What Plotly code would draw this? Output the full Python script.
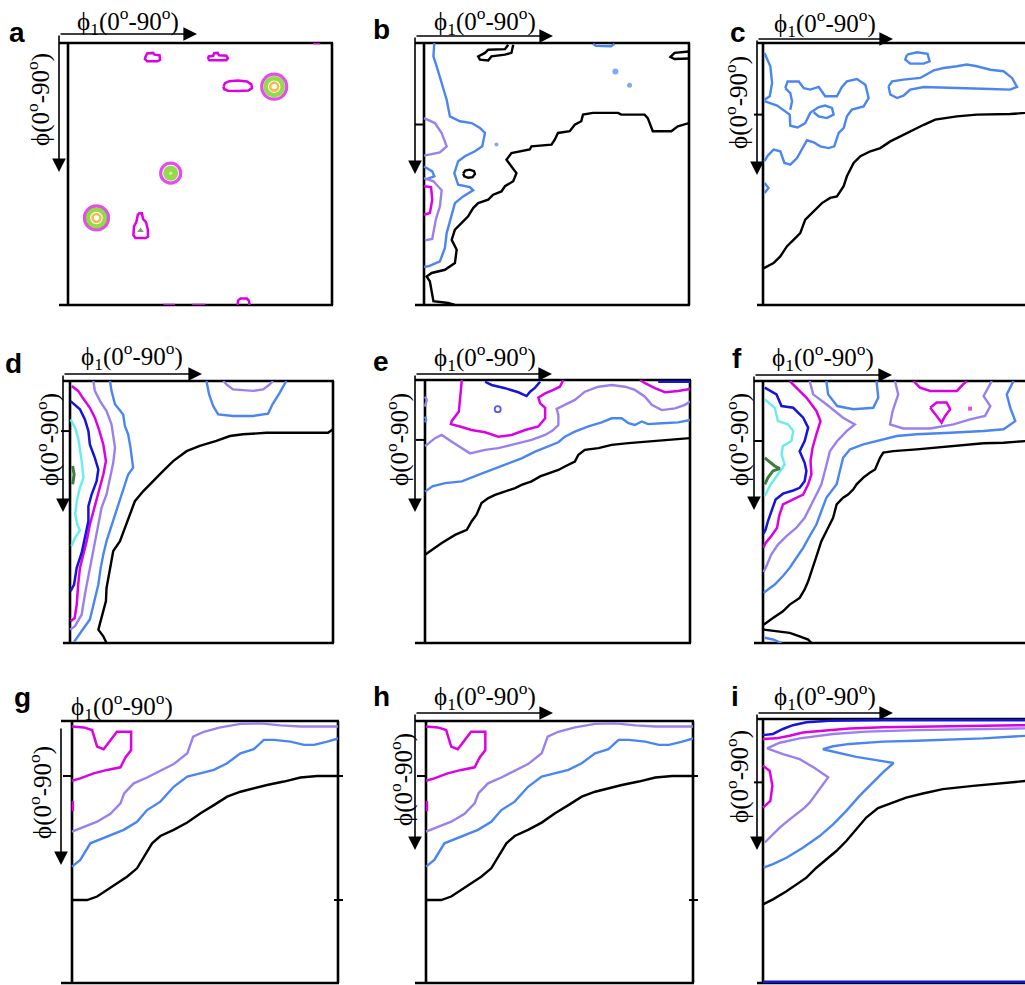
import plotly.graph_objects as go

W, H = 1025, 985

# ---------------- contour data: (phi1, PHI) in degrees ----------------
# panel a
a_mag_1 = [(26.5, 4.5), (27.0, 3.6), (29.0, 3.4), (29.5, 4.0), (31.2, 4.2), (31.4, 5.8), (30.5, 6.3), (27.0, 6.3), (26.2, 5.5), (26.5, 4.5)]
a_mag_2 = [(47.7, 5.5), (48.0, 4.6), (49.5, 4.4), (49.8, 3.5), (51.0, 3.4), (51.5, 4.2), (54.0, 4.4), (54.5, 5.2), (54.0, 5.9), (48.2, 5.9), (47.7, 5.5)]
a_mag_3 = [(53.0, 15.0), (53.5, 13.8), (55.0, 13.1), (58.0, 12.9), (61.0, 13.2), (62.5, 14.2), (62.7, 15.5), (61.5, 16.3), (58.0, 16.5), (54.5, 16.4), (53.2, 15.8), (53.0, 15.0)]
a_mag_4 = [(23.9, 58.6), (25.2, 58.5), (25.6, 60.5), (26.6, 61.5), (27.2, 64.0), (27.3, 66.5), (26.5, 67.0), (23.0, 67.0), (22.3, 66.0), (22.5, 63.0), (23.3, 61.5), (23.5, 60.0), (23.9, 58.6)]
a_mag_5 = [(57.8, 90.0), (58.0, 88.4), (58.8, 87.8), (61.0, 87.8), (61.7, 88.6), (61.9, 90.0)]
a_mag_6 = [(32.5, 90.0), (36.5, 90.0)]
a_mag_7 = [(42.2, 90.0), (46.8, 90.0)]
a_mag_8 = [(83.5, 0.0), (86.0, 0.0)]
a_peaks = [(70.3, 15.0), (35.0, 44.7), (9.7, 60.1)]
a_minor_peak = [(24.7, 64.4)]

# panel b
b_black_1 = [(90, 27.5), (86.2, 28.6), (84.0, 30.3), (77.7, 30.3), (76.0, 25.8), (74.9, 24.6), (67.0, 24.6), (65.9, 24.0), (57.4, 24.0), (54.0, 24.6), (53.4, 26.9), (51.2, 28.1), (49.5, 30.3), (45.5, 30.9), (44.4, 33.2), (43.3, 34.9), (36.5, 35.5), (35.9, 36.6), (29.7, 37.8), (28.0, 40.1), (29.7, 42.4), (31.4, 44.7), (30.3, 47.5), (27.5, 49.2), (26.3, 51.0), (23.5, 52.1), (21.8, 53.8), (18.4, 55.0), (16.7, 56.7), (15.0, 59.5), (12.8, 61.8), (10.5, 64.1), (9.4, 67.6), (11.1, 71.0), (10.5, 75.6), (7.1, 77.9), (2.6, 79.0), (0.9, 80.2), (2.0, 81.9), (2.6, 85.9), (3.2, 88.7), (8.2, 89.3), (10.5, 90)]
b_black_2 = [(30.3, 0.6), (29.7, 3.4), (27.5, 4.0), (22.9, 4.6), (21.8, 6.0), (19.0, 5.7), (18.4, 4.6), (20.7, 3.4), (21.8, 2.3), (27.5, 2.1), (28.6, 0.6)]
b_black_3 = [(90, 2.9), (85.1, 3.4), (83.7, 4.8), (85.1, 5.5), (90, 5.3)]
b_black_4 = [(13.3, 44.9), (14.0, 43.8), (15.5, 43.5), (17.0, 44.0), (17.3, 45.0), (16.5, 46.1), (15.0, 46.3), (13.7, 45.8), (13.3, 44.9)]
b_blue_1 = [(3.5, 0), (3.2, 4.6), (4.3, 8.0), (6.0, 13.7), (7.7, 19.5), (8.8, 25.2), (12.2, 26.9), (16.2, 27.5), (19.0, 29.2), (20.7, 30.9), (19.8, 35.5), (17.3, 37.2), (13.9, 38.9), (11.6, 40.6), (10.3, 44.7), (11.6, 48.7), (15.6, 49.5), (16.7, 50.6), (13.3, 52.7), (10.5, 55.0), (9.2, 59.5), (7.7, 65.3), (7.1, 70.4), (5.4, 75.0), (1.5, 76.7), (0, 76.9)]
b_blue_2 = [(0, 42.4), (2.8, 44.1), (3.5, 45.8), (0.3, 46.9)]
b_blue_3 = [(57.4, 0.3), (58.5, 1.0), (63.5, 1.1), (64.7, 0.3)]
b_blue_dots = [(65.0, 9.8), (69.8, 14.5), (24.6, 34.9)]
b_purple_1 = [(0, 25.8), (3.7, 27.5), (6.0, 30.9), (7.7, 35.5), (5.4, 37.6), (1.5, 38.4), (0, 38.7)]
b_purple_2 = [(0, 46.4), (3.2, 47.5), (6.0, 50.6), (5.4, 56.1), (4.0, 60.7), (3.2, 65.3), (2.8, 67.3), (0.3, 67.8)]
b_mag_1 = [(0, 49.2), (2.4, 49.5), (2.8, 53.8), (2.0, 58.4), (0, 59.0)]

# panel c
c_black_1 = [(0, 77.5), (3.6, 75.6), (5.9, 73.3), (8.2, 69.8), (10.4, 67.6), (12.7, 65.3), (14.4, 60.7), (16.7, 58.4), (20.1, 55.0), (22.9, 53.2), (25.2, 52.7), (27.5, 49.2), (28.6, 45.8), (30.9, 41.2), (33.2, 38.9), (36.6, 37.2), (40.0, 36.1), (43.4, 33.8), (47.9, 31.5), (51.3, 29.8), (54.8, 28.1), (58.7, 26.3), (62.1, 25.8), (66.1, 25.2), (72.9, 24.6), (77.5, 24.6), (84.3, 24.4), (89.4, 24.0), (90, 23.8)]
c_blue_1 = [(0.5, 3.4), (2.5, 8.0), (3.1, 13.7), (2.3, 18.3), (0.5, 19.5)]
c_blue_2 = [(7.6, 15.5), (8.4, 13.2), (12.2, 13.2), (13.9, 15.5), (16.1, 16.0), (19.0, 15.1), (21.2, 18.3), (25.2, 18.3), (26.9, 15.1), (28.6, 13.2), (32.0, 12.4), (34.9, 14.3), (36.0, 18.9), (34.3, 21.8), (30.3, 22.9), (28.6, 25.2), (27.5, 29.2), (25.8, 30.9), (24.3, 35.5), (22.4, 36.1), (19.5, 35.5), (17.3, 34.1), (15.0, 33.4), (13.9, 35.5), (11.6, 39.5), (9.3, 41.8), (7.3, 41.2), (5.9, 37.2), (3.6, 36.6), (1.6, 38.7), (0.5, 40.6)]
c_blue_3 = [(0.5, 20.0), (4.8, 21.5), (9.1, 24.6), (9.3, 28.4), (11.8, 29.0), (14.4, 27.5), (16.1, 24.0), (19.0, 22.0), (21.2, 21.5), (23.5, 22.3), (24.1, 24.6), (21.8, 25.8), (19.0, 25.2), (17.3, 23.8)]
c_blue_4 = [(7.6, 15.5), (9.3, 17.2), (9.9, 20.0), (9.3, 22.9)]
c_blue_5 = [(42.8, 14.9), (44.0, 13.2), (47.9, 12.6), (53.6, 12.0), (58.2, 9.4), (61.6, 8.6), (66.1, 8.0), (69.5, 7.4), (72.9, 8.0), (77.5, 9.2), (82.0, 9.7), (84.9, 12.0), (86.6, 15.1), (84.3, 16.0), (77.5, 15.8), (66.1, 15.5), (54.8, 15.1), (50.2, 16.0), (47.9, 18.1), (45.7, 18.9), (43.4, 17.7), (42.8, 14.9)]
c_blue_6 = [(49.1, 4.0), (52.5, 3.2), (56.1, 3.7), (56.8, 6.3), (54.8, 7.1), (50.2, 7.1), (48.5, 5.7), (49.1, 4.0)]
c_blue_7 = [(0.5, 48.1), (1.9, 49.8), (0.5, 51.5)]

# panel d
d_black_1 = [(90.0, 16.6), (88.3, 17.8), (78.6, 17.8), (67.2, 17.8), (59.2, 18.3), (54.7, 18.9), (50.1, 20.6), (44.4, 22.3), (39.9, 24.1), (35.3, 27.5), (31.9, 30.9), (28.5, 34.4), (25.1, 37.8), (22.2, 41.3), (20.5, 45.8), (18.8, 50.4), (17.1, 55.0), (14.8, 58.4), (13.7, 64.2), (12.5, 71.1), (12.3, 75.6), (11.4, 79.1), (10.3, 82.5), (9.7, 85.4), (11.4, 87.7), (12.5, 90.0)]
d_blue_1 = [(13.7, 0), (14.2, 3.4), (15.4, 8.0), (18.2, 11.5), (18.8, 15.5), (19.9, 18.3), (20.7, 22.9), (21.6, 29.8), (19.9, 32.1), (18.8, 35.5), (17.3, 40.1), (15.9, 44.7), (13.9, 50.4), (12.5, 55.0), (11.4, 59.6), (10.5, 64.2), (9.7, 69.9), (8.2, 75.6), (6.8, 81.9), (4.0, 85.9), (1.4, 89.6)]
d_blue_2 = [(46.7, 0), (47.6, 4.6), (49.0, 8.6), (50.7, 11.5), (55.8, 12.0), (62.6, 12.0), (67.8, 11.2), (69.3, 8.0), (71.8, 4.0), (74.0, 0)]
d_purple_1 = [(8.0, 0), (8.5, 3.4), (10.3, 6.9), (12.5, 10.3), (14.2, 14.9), (15.4, 22.9), (14.8, 28.1), (13.7, 33.2), (12.5, 39.0), (10.8, 43.5), (9.7, 49.3), (8.5, 55.0), (7.4, 60.2), (6.3, 66.5), (5.1, 73.3), (4.0, 80.2), (1.7, 84.2), (0, 85.4)]
d_purple_2 = [(52.4, 0), (53.8, 1.4), (55.8, 2.9), (62.6, 3.4), (66.1, 2.9), (68.1, 1.4), (69.5, 0)]
d_mag_1 = [(0.6, 1.7), (2.8, 3.4), (4.3, 5.7), (6.8, 9.2), (8.5, 12.6), (9.9, 16.6), (11.4, 21.8), (12.3, 27.5), (11.4, 32.1), (9.9, 37.8), (8.5, 43.5), (6.8, 49.3), (5.7, 55.0), (4.6, 59.6), (3.4, 64.2), (2.8, 69.9), (2.3, 76.8), (1.6, 81.4), (0.2, 82.5)]
d_dblue_1 = [(0.2, 6.9), (3.4, 9.7), (5.1, 13.2), (6.3, 17.2), (6.8, 21.8), (8.5, 26.4), (9.7, 30.4), (9.1, 34.4), (7.4, 39.0), (6.3, 43.0), (6.3, 48.1), (5.1, 53.9), (4.0, 59.0), (2.3, 64.2), (1.4, 69.9), (0.2, 72.2)]
d_cyan_1 = [(0.2, 13.2), (1.7, 16.0), (2.8, 19.5), (3.4, 23.5), (4.0, 27.5), (4.6, 33.2), (3.4, 36.7), (2.3, 41.3), (1.8, 45.8), (2.5, 49.3), (3.4, 51.3), (1.7, 53.9), (0.5, 56.7)]
d_green_1 = [(0.9, 29.2), (1.4, 32.1), (0.9, 35.5)]

# panel e
e_black_1 = [(0, 59.8), (2.3, 58.1), (5.7, 55.8), (10.2, 53.0), (14.2, 51.3), (15.8, 48.4), (17.5, 46.1), (19.2, 42.1), (21.5, 40.4), (23.8, 39.3), (27.2, 38.2), (30.6, 37.0), (32.8, 35.9), (36.2, 34.7), (39.1, 33.0), (41.9, 31.9), (45.3, 30.8), (47.5, 29.6), (50.9, 27.9), (52.1, 25.6), (54.3, 23.9), (58.9, 23.3), (63.4, 22.2), (69.1, 21.6), (74.7, 21.1), (80.4, 20.5), (86.0, 20.2), (90, 19.9)]
e_blue_1 = [(0, 38.2), (2.5, 36.4), (6.8, 35.3), (12.5, 34.7), (18.1, 32.5), (22.6, 30.8), (27.2, 29.0), (32.8, 26.8), (37.4, 24.5), (41.9, 22.8), (45.3, 21.3), (47.5, 19.4), (50.9, 17.7), (55.5, 15.9), (60.0, 14.5), (63.4, 13.1), (66.8, 13.1), (69.1, 14.8), (71.3, 15.4), (73.6, 14.2), (75.8, 15.1), (80.4, 14.8), (86.0, 14.5), (90, 13.7)]
e_blue_2 = [(0, 12.5), (0.4, 13.7), (0, 14.5)]
e_purple_1 = [(0, 22.6), (0.6, 22.2), (3.4, 19.9), (5.7, 18.8), (9.1, 21.1), (12.5, 23.3), (15.3, 25.1), (20.4, 23.9), (24.9, 23.3), (29.4, 22.2), (36.2, 20.5), (40.8, 18.8), (43.2, 17.4), (45.3, 15.4), (45.3, 12.0), (44.7, 9.9), (47.5, 8.5), (50.9, 6.8), (54.3, 4.0), (58.9, 2.3), (63.4, 1.7), (67.9, 2.3), (71.3, 3.4), (74.7, 5.7), (77.0, 8.5), (80.4, 10.3), (84.9, 9.7), (88.3, 8.5), (90, 7.4)]
e_purple_2 = [(0, 5.7), (0.6, 6.8), (0, 9.1)]
e_mag_1 = [(12.5, 0), (12.1, 5.1), (11.5, 10.8), (9.1, 14.0), (8.8, 15.1), (11.9, 15.9), (15.8, 17.1), (20.4, 17.9), (24.9, 19.4), (29.4, 18.8), (34.0, 17.1), (38.5, 15.9), (40.8, 13.1), (40.8, 9.5), (39.1, 8.0), (38.5, 6.0), (40.8, 4.6), (43.6, 3.4), (45.8, 2.3), (47.0, 0)]
e_mag_2 = [(73.0, 0), (74.7, 1.1), (78.1, 2.8), (81.5, 4.2), (86.0, 3.8), (90, 3.1)]
e_dblue_1 = [(20.4, 0.6), (22.6, 1.7), (27.2, 2.8), (31.7, 4.2), (34.5, 5.5), (35.7, 4.0), (37.4, 2.6), (39.1, 0.6)]
e_dblue_2 = [(79.2, 0.6), (90, 0.6)]
e_dblue_dot = [(24.7, 10.0)]

# panel f
f_black_1 = [(90, 20.6), (82.0, 21.2), (75.2, 21.4), (66.1, 22.3), (59.2, 22.9), (52.4, 23.5), (44.4, 24.1), (41.0, 24.6), (39.9, 26.4), (39.0, 28.7), (38.2, 30.4), (36.4, 31.5), (34.2, 33.2), (31.9, 35.5), (30.8, 37.2), (29.0, 39.0), (27.3, 40.1), (25.1, 42.4), (23.9, 47.0), (22.2, 50.4), (21.1, 52.7), (19.9, 55.0), (18.8, 58.4), (17.7, 61.9), (16.5, 65.3), (15.4, 68.8), (14.2, 71.6), (12.5, 74.5), (9.1, 76.8), (6.8, 79.1), (3.4, 81.4), (0.2, 83.7)]
f_black_2 = [(0.2, 85.4), (4.6, 86.0), (9.1, 86.5), (12.5, 87.7), (15.4, 88.8), (16.5, 90)]
f_blue_1 = [(85.4, 0), (83.1, 4.6), (84.3, 9.2), (86.0, 13.8), (82.0, 16.6), (75.2, 17.2), (63.8, 17.8), (52.4, 18.3), (45.6, 18.9), (41.0, 20.1), (34.2, 21.8), (29.6, 23.5), (27.3, 26.4), (26.2, 30.9), (25.1, 35.5), (21.6, 40.1), (19.9, 44.7), (18.2, 49.3), (15.9, 53.3), (13.7, 57.3), (11.4, 60.7), (9.1, 64.2), (6.8, 67.0), (4.0, 69.9), (1.7, 71.6), (0.2, 72.8)]
f_blue_2 = [(21.6, 0), (22.2, 4.6), (25.3, 8.6), (30.8, 9.7), (37.6, 9.2), (39.3, 5.7), (38.7, 0)]
f_blue_3 = [(0.6, 88.2), (3.4, 88.8), (6.3, 90)]
f_purple_1 = [(15.9, 0), (17.1, 4.6), (21.6, 8.0), (27.3, 12.6), (31.3, 14.9), (28.5, 17.2), (25.3, 20.6), (22.8, 24.1), (21.4, 29.8), (19.9, 35.5), (18.8, 37.8), (16.5, 42.4), (14.2, 47.0), (11.4, 50.4), (8.0, 53.3), (5.1, 56.2), (2.8, 59.6), (1.4, 63.0), (0.2, 65.6)]
f_purple_2 = [(45.0, 0), (46.1, 4.6), (44.2, 10.3), (43.3, 14.9), (47.8, 16.3), (57.0, 16.3), (64.9, 14.9), (70.6, 13.2), (75.7, 12.0), (77.5, 8.6), (75.2, 5.2), (78.0, 0)]
f_mag_1 = [(9.1, 0), (10.8, 1.7), (14.8, 5.7), (18.2, 10.3), (19.6, 13.8), (18.2, 18.3), (16.9, 22.9), (16.2, 27.5), (16.5, 32.1), (15.4, 35.5), (13.7, 39.0), (10.3, 40.7), (6.8, 42.4), (5.5, 46.4), (4.8, 50.4), (2.8, 53.3), (0.9, 55.6), (0.2, 57.3)]
f_mag_2 = [(51.3, 0), (53.5, 2.3), (57.0, 3.4), (66.1, 3.4), (68.3, 1.1), (69.5, 0)]
f_mag_3 = [(57.0, 9.2), (59.2, 7.4), (62.6, 7.4), (63.8, 9.7), (62.1, 12.0), (60.9, 14.3), (59.2, 12.0), (57.0, 9.2)]
f_mag_dot = [(70.6, 9.5)]
f_dblue_1 = [(0.6, 2.3), (4.6, 4.6), (6.3, 8.6), (10.3, 9.2), (13.7, 12.6), (15.4, 16.0), (14.2, 20.6), (12.5, 24.1), (14.2, 28.1), (14.8, 30.9), (14.2, 34.4), (12.5, 36.7), (10.3, 37.6), (6.8, 38.7), (4.3, 40.7), (2.8, 44.7), (1.7, 48.1), (0.9, 51.0), (0.2, 52.5)]
f_cyan_1 = [(0.6, 6.3), (4.0, 9.2), (5.1, 13.8), (8.5, 14.9), (10.3, 17.2), (9.7, 20.6), (6.8, 22.3), (6.3, 25.2), (7.4, 28.7), (5.1, 32.1), (2.3, 36.1), (0.6, 39.5)]
f_green_1 = [(0.6, 26.4), (4.0, 29.2), (5.7, 30.1), (3.4, 30.9), (1.7, 33.2), (0.6, 35.5)]

# panels g and h (same distribution)
g_black_1 = [(0, 61.5), (5.1, 61.5), (8.5, 60.3), (11.9, 58.1), (15.2, 55.8), (18.6, 53.5), (22.0, 50.6), (24.3, 46.6), (27.1, 42.0), (29.9, 39.5), (34.4, 37.4), (39.0, 34.9), (43.5, 31.7), (48.0, 28.9), (52.5, 26.0), (57.0, 24.3), (61.5, 23.1), (66.0, 22.0), (71.7, 20.8), (77.3, 19.4), (83.0, 18.9), (90, 18.9)]
g_blue_1 = [(0, 50.0), (2.8, 47.7), (6.2, 42.0), (11.9, 39.7), (17.5, 37.4), (22.0, 34.6), (25.4, 30.6), (29.9, 27.7), (34.4, 22.6), (39.0, 19.1), (43.5, 18.0), (48.0, 16.8), (52.5, 14.5), (57.0, 11.1), (61.5, 9.7), (64.9, 6.5), (68.3, 6.5), (73.9, 7.1), (78.5, 8.2), (81.9, 8.2), (86.4, 7.1), (90, 6.0)]
g_purple_1 = [(0, 38.0), (4.0, 36.3), (8.5, 34.6), (13.0, 31.9), (16.4, 28.3), (17.7, 24.8), (20.9, 21.4), (25.4, 19.4), (29.9, 17.1), (34.4, 14.8), (39.0, 11.1), (41.0, 5.4), (44.6, 3.7), (50.2, 2.2), (57.0, 1.0), (63.8, 0.8), (70.6, 1.5), (77.3, 1.9), (90, 1.9)]
g_mag_1 = [(0, 1.9), (4.0, 2.2), (6.8, 3.1), (8.5, 8.8), (10.7, 9.7), (13.0, 6.5), (15.2, 3.7), (20.0, 3.7), (20.0, 10.0), (18.1, 12.5), (16.4, 15.9), (11.9, 16.8), (7.3, 18.0), (2.8, 19.7), (0, 20.5)]
g_mag_2 = [(0.3, 27.5), (0.3, 31.0)]

# panel i
i_dblue_1 = [(0, 5.5), (3.4, 5.1), (6.8, 3.4), (10.2, 2.1), (14.8, 1.1), (22.7, 0.6), (40.9, 0.4), (90, 0.4)]
i_dblue_2 = [(0, 89.6), (90, 89.6)]
i_mag_1 = [(0, 6.8), (4.5, 6.6), (9.1, 5.7), (13.6, 4.6), (20.4, 4.0), (29.5, 3.2), (40.9, 2.8), (52.3, 2.6), (70.4, 2.3), (90, 2.1)]
i_mag_2 = [(0, 15.9), (2.3, 17.7), (3.2, 22.8), (2.5, 27.9), (0, 30.2)]
i_purple_1 = [(90, 3.2), (70.4, 3.5), (52.3, 3.8), (35.2, 4.3), (23.9, 5.1), (12.5, 6.6), (5.7, 8.1), (1.4, 10.0), (6.8, 12.0), (12.5, 13.7), (17.6, 16.7), (22.2, 19.9), (19.3, 23.9), (15.9, 28.5), (14.2, 30.2), (11.9, 31.9), (9.1, 34.2), (5.7, 37.0), (2.8, 39.9), (0.6, 42.1)]
i_blue_1 = [(90, 5.7), (75.0, 6.6), (52.3, 7.4), (40.9, 7.7), (29.5, 8.5), (23.9, 9.3), (20.4, 10.3), (25.0, 11.4), (31.8, 12.9), (38.6, 14.0), (44.5, 15.0), (40.9, 18.2), (36.9, 22.2), (32.9, 26.2), (28.4, 31.3), (23.9, 35.9), (19.3, 39.9), (13.6, 43.9), (8.0, 47.3), (3.4, 49.5), (0.2, 50.7)]
i_black_1 = [(0, 63.2), (3.4, 61.5), (8.0, 58.7), (11.4, 56.4), (14.8, 54.1), (18.2, 50.7), (21.6, 47.8), (25.0, 45.0), (28.4, 41.6), (31.8, 37.6), (35.2, 33.6), (39.2, 30.4), (43.2, 28.8), (48.8, 26.8), (54.5, 25.4), (61.3, 23.9), (71.6, 22.8), (82.9, 21.6), (90, 21.1)]

# tick marks on the PHI axis (degrees)
tick_left = {'b': [28.0], 'c': [24.6], 'd': [17.2], 'e': [20.5], 'f': [20.6], 'g': [18.9], 'h': [18.9], 'i': [21.6]}
tick_right = {'g': [18.9, 61.5], 'h': [18.9, 61.5]}

panel_letters = ['a', 'b', 'c', 'd', 'e', 'f', 'g', 'h', 'i']
label_phi1 = 'ϕ<sub>1</sub>(0<sup>o</sup>-90<sup>o</sup>)'
label_phi = 'ϕ(0<sup>o</sup>-90<sup>o</sup>)'

# ---------------- styles ----------------
COLORS = {'black': '#000000', 'blue': '#4a86f2', 'purple': '#9a80ee', 'magenta': '#dc00e6',
          'dblue': '#1414dc', 'cyan': '#66eeee', 'green': '#3d7d3d', 'lime': '#66cc00', 'orange': '#eea010',
          'white': '#ffffff'}
WIDTHS = {'black': 2.4, 'blue': 2.4, 'purple': 2.4, 'magenta': 2.5, 'dblue': 2.5, 'cyan': 2.4, 'green': 3.0}

LINES = {
    'a': [('magenta', a_mag_1), ('magenta', a_mag_2), ('magenta', a_mag_3), ('magenta', a_mag_4),
          ('magenta', a_mag_5), ('magenta', a_mag_6), ('magenta', a_mag_7), ('magenta', a_mag_8)],
    'b': [('black', b_black_1), ('black', b_black_2), ('black', b_black_3), ('black', b_black_4),
          ('blue', b_blue_1), ('blue', b_blue_2), ('blue', b_blue_3), ('purple', b_purple_1),
          ('purple', b_purple_2), ('magenta', b_mag_1)],
    'c': [('black', c_black_1), ('blue', c_blue_1), ('blue', c_blue_2), ('blue', c_blue_3), ('blue', c_blue_4),
          ('blue', c_blue_5), ('blue', c_blue_6), ('blue', c_blue_7)],
    'd': [('black', d_black_1), ('blue', d_blue_1), ('blue', d_blue_2), ('purple', d_purple_1),
          ('purple', d_purple_2), ('magenta', d_mag_1), ('dblue', d_dblue_1), ('cyan', d_cyan_1),
          ('green', d_green_1)],
    'e': [('black', e_black_1), ('blue', e_blue_1), ('blue', e_blue_2), ('purple', e_purple_1),
          ('purple', e_purple_2), ('magenta', e_mag_1), ('magenta', e_mag_2), ('dblue', e_dblue_1),
          ('dblue', e_dblue_2)],
    'f': [('black', f_black_1), ('black', f_black_2), ('blue', f_blue_1), ('blue', f_blue_2), ('blue', f_blue_3),
          ('purple', f_purple_1), ('purple', f_purple_2), ('magenta', f_mag_1), ('magenta', f_mag_2),
          ('magenta', f_mag_3), ('dblue', f_dblue_1), ('cyan', f_cyan_1), ('green', f_green_1)],
    'g': [('black', g_black_1), ('blue', g_blue_1), ('purple', g_purple_1), ('magenta', g_mag_1), ('magenta', g_mag_2)],
    'h': [('black', g_black_1), ('blue', g_blue_1), ('purple', g_purple_1), ('magenta', g_mag_1), ('magenta', g_mag_2)],
    'i': [('black', i_black_1), ('blue', i_blue_1), ('purple', i_purple_1), ('magenta', i_mag_1),
          ('magenta', i_mag_2), ('dblue', i_dblue_1), ('dblue', i_dblue_2)],
}

# dot-like features: (panel, level, points, symbol, size, line width)
DOTS = [
    ('a', 'magenta', a_peaks, 'circle-open', [25, 20, 24], 3.2),
    ('a', 'lime', [a_peaks[0], a_peaks[2]], 'circle-open', [17, 17], 4.5),
    ('a', 'lime', [a_peaks[1]], 'circle', [15], 0),
    ('a', 'white', [a_peaks[1]], 'circle', [3], 0),
    ('a', 'orange', [a_peaks[0], a_peaks[2]], 'circle-open', [8, 8], 2.6),
    ('a', 'green', a_minor_peak, 'triangle-up', [6], 0),
    ('b', 'blue', b_blue_dots, 'circle', [6, 5, 4], 0),
    ('e', 'dblue', e_dblue_dot, 'circle-open', [6], 1.8),
    ('f', 'magenta', f_mag_dot, 'square', [4], 0),
]

# ---------------- layout geometry (pixels): left border, right border, top, bottom, frame start ----------------
GEOM = {
    'a': (68, 332, 43, 305, 59), 'b': (424, 689, 43, 305, 415), 'c': (763, 1027, 43, 305, 757),
    'd': (70, 333, 381, 643, 63), 'e': (425, 690, 380, 643, 415), 'f': (763, 1027, 381, 643, 754),
    'g': (72, 338, 721, 983, 61), 'h': (426, 693, 721, 983, 415), 'i': (763, 1027, 719, 983, 757),
}
ARROWS = {  # (tail_x, tail_y, tip_x, tip_y)
    'a': [(59, 34, 197, 34), (59, 34, 59, 172)],
    'b': [(415, 36, 553, 36), (415, 36, 415, 174)],
    'c': [(757, 39, 893, 39), (757, 39, 757, 175)],
    'd': [(63, 374, 202, 374), (63, 374, 63, 512)],
    'e': [(415, 374, 552, 374), (415, 374, 415, 512)],
    'f': [(754, 375, 892, 375), (754, 375, 754, 510)],
    'g': [(61, 727, 61, 865)],
    'h': [(415, 713, 553, 713), (415, 713, 415, 850)],
    'i': [(757, 713, 893, 713), (757, 713, 757, 850)],
}
LETTER_POS = {'a': (17, 32), 'b': (381, 30), 'c': (738, 32), 'd': (13, 363), 'e': (381, 361),
              'f': (737, 358), 'g': (22, 697), 'h': (381, 696), 'i': (735, 696)}
PHI1_POS = {'a': (128, 21), 'b': (485, 21), 'c': (825, 23), 'd': (132, 356), 'e': (485, 357),
            'f': (823, 357), 'g': (122, 706), 'h': (485, 696), 'i': (825, 696)}
PHI_POS = {'a': (39, 100), 'c': (737, 103), 'd': (47, 440), 'e': (397, 440), 'f': (737, 440),
           'g': (40, 793), 'h': (401, 780), 'i': (737, 777)}


def px(xp):
    return xp / W


def py(yp):
    return 1 - yp / H


fig = go.Figure()
shapes, annotations = [], []
FRAME_W = 2.6

for idx, p in enumerate(panel_letters, start=1):
    left, right, top, bottom, dl = GEOM[p]
    pxdeg = (right - left) / 90.0
    dr = min(right, W)
    sfx = '' if idx == 1 else str(idx)
    fig.update_layout(**{
        'xaxis' + sfx: dict(domain=[px(dl), px(dr)], range=[-(left - dl) / pxdeg, (dr - left) / pxdeg],
                            visible=False, anchor='y' + sfx, fixedrange=True),
        'yaxis' + sfx: dict(domain=[py(bottom), py(top)], range=[90, 0], visible=False,
                            anchor='x' + sfx, fixedrange=True),
    })
    for level, pts in LINES[p]:
        fig.add_trace(go.Scatter(x=[q[0] for q in pts], y=[q[1] for q in pts], mode='lines',
                                 line=dict(color=COLORS[level], width=WIDTHS[level]),
                                 xaxis='x' + sfx, yaxis='y' + sfx, hoverinfo='skip', showlegend=False))
    for (pp, level, pts, sym, sizes, lw) in DOTS:
        if pp != p:
            continue
        fig.add_trace(go.Scatter(x=[q[0] for q in pts], y=[q[1] for q in pts], mode='markers',
                                 marker=dict(symbol=sym, size=sizes, color=COLORS[level], line=dict(width=lw, color=COLORS[level])),
                                 xaxis='x' + sfx, yaxis='y' + sfx, hoverinfo='skip', showlegend=False, cliponaxis=False))
    # frame
    line = dict(color='black', width=FRAME_W)
    shapes.append(dict(type='line', xref='paper', yref='paper', x0=px(dl), x1=px(min(right + 1, W)), y0=py(top), y1=py(top), line=line, layer='below'))
    shapes.append(dict(type='line', xref='paper', yref='paper', x0=px(dl), x1=px(min(right + 1, W)), y0=py(bottom), y1=py(bottom), line=line, layer='below'))
    shapes.append(dict(type='line', xref='paper', yref='paper', x0=px(left), x1=px(left), y0=py(top), y1=py(bottom), line=line, layer='below'))
    if right <= W:
        shapes.append(dict(type='line', xref='paper', yref='paper', x0=px(right), x1=px(right), y0=py(top), y1=py(bottom), line=line, layer='below'))
    sy = (bottom - top) / 90.0
    for v in tick_left.get(p, []):
        yy = top + v * sy
        shapes.append(dict(type='line', xref='paper', yref='paper', x0=px(left - 9), x1=px(left), y0=py(yy), y1=py(yy), line=dict(color='black', width=2)))
    for v in tick_right.get(p, []):
        yy = top + v * sy
        shapes.append(dict(type='line', xref='paper', yref='paper', x0=px(right - 4), x1=px(right + 5), y0=py(yy), y1=py(yy), line=dict(color='black', width=2)))
    # arrows
    for (tx, ty, hx, hy) in ARROWS[p]:
        annotations.append(dict(x=px(hx), y=py(hy), xref='paper', yref='paper', ax=tx - hx, ay=ty - hy,
                                text='', showarrow=True, arrowhead=2, arrowsize=1.7, arrowwidth=1.6,
                                arrowcolor='black', standoff=0, startstandoff=0))
    # texts
    lx, ly = LETTER_POS[p]
    annotations.append(dict(x=px(lx), y=py(ly), xref='paper', yref='paper', text='<b>' + p + '</b>', showarrow=False,
                            xanchor='center', yanchor='middle', font=dict(family='Liberation Sans', size=28, color='black')))
    tx_, ty_ = PHI1_POS[p]
    annotations.append(dict(x=px(tx_), y=py(ty_), xref='paper', yref='paper', text=label_phi1, showarrow=False,
                            xanchor='center', yanchor='middle', font=dict(family='Liberation Serif', size=25, color='black')))
    if p in PHI_POS:
        tx_, ty_ = PHI_POS[p]
        annotations.append(dict(x=px(tx_), y=py(ty_), xref='paper', yref='paper', text=label_phi, showarrow=False,
                                textangle=-90, xanchor='center', yanchor='middle',
                                font=dict(family='Liberation Serif', size=25, color='black')))

fig.update_layout(width=W, height=H, margin=dict(l=0, r=0, t=0, b=0), autosize=False,
                  paper_bgcolor='white', plot_bgcolor='rgba(0,0,0,0)', showlegend=False,
                  shapes=shapes, annotations=annotations)

fig.write_html("out.html")
